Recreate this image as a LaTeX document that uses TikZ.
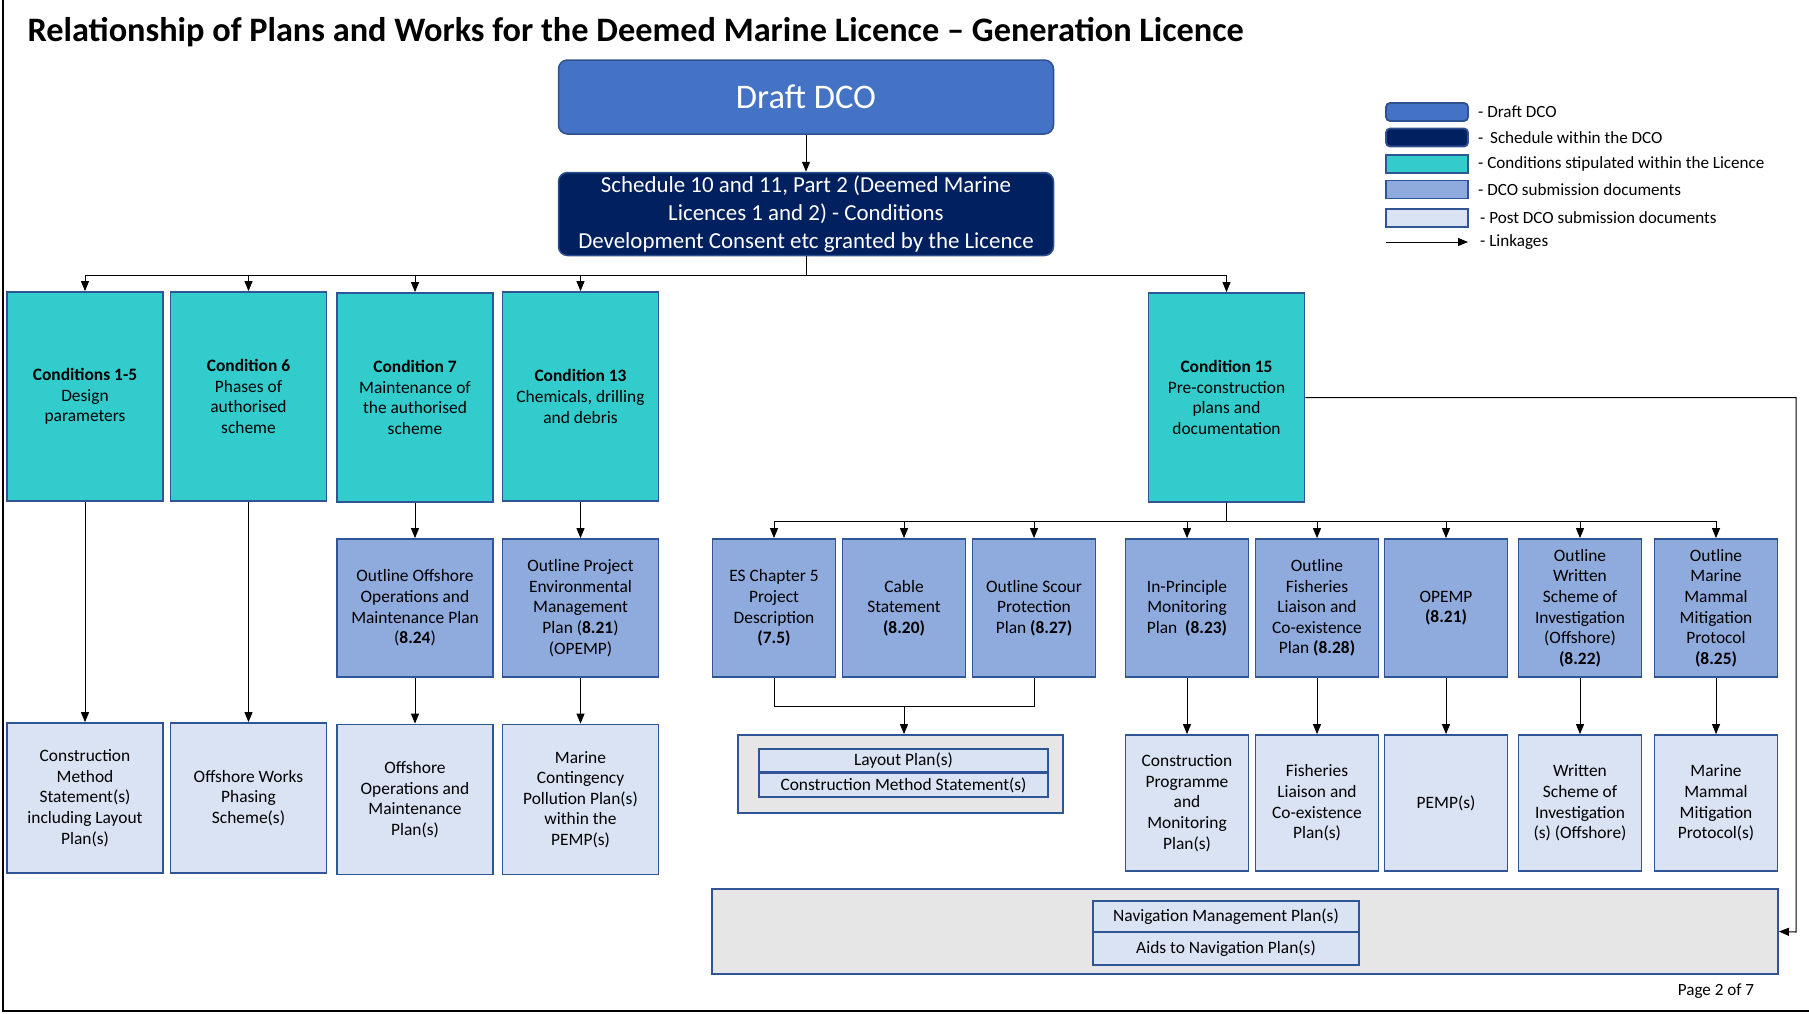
\documentclass[tikz,border=0pt]{standalone}
\usepackage{fontspec}
\setmainfont{Carlito}
\usetikzlibrary{arrows.meta,positioning,calc}
\definecolor{dcoblue}{HTML}{4472C4}
\definecolor{dcoedge}{HTML}{2F528F}
\definecolor{schednavy}{HTML}{002060}
\definecolor{condcyan}{HTML}{33CCCC}
\definecolor{subblue}{HTML}{8FAADC}
\definecolor{postblue}{HTML}{DAE3F3}
\definecolor{traygrey}{HTML}{E7E6E6}
\definecolor{boxedge}{HTML}{2F5597}
\newcommand\boxfont{\fontsize{17.4}{20.6}\selectfont}
\newcommand\legfont{\fontsize{17.1}{19}\selectfont}

\begin{document}
\begin{tikzpicture}[
        x=1pt, y=-1pt,
        docbox/.style={draw=boxedge, line width=1.8pt, align=center, font=\boxfont, inner sep=2pt},
        condbox/.style={docbox, fill=condcyan, minimum width=156pt, minimum height=209pt},
        subdoc/.style={docbox, fill=subblue, minimum width=123pt, minimum height=138pt},
        subwide/.style={subdoc, minimum width=156pt},
        postdoc/.style={docbox, fill=postblue, minimum width=123pt, minimum height=136pt},
        postwide/.style={postdoc, minimum width=156pt, minimum height=150pt},
        trayframe/.style={draw=boxedge, line width=1.8pt, fill=traygrey},
        slotbox/.style={docbox, fill=postblue, inner sep=0pt},
        linkage/.style={-{Triangle[length=10pt,width=8pt]}, line width=1pt},
        swatchbox/.style={draw=boxedge, line width=1.8pt, minimum width=82pt, minimum height=18pt, inner sep=0pt},
        legtext/.style={anchor=west, font=\legfont, inner sep=0pt}
    ]
    \useasboundingbox (0,0) rectangle (1809,1013);
    \draw[line width=2pt] (3,0) -- (3,1011) -- (1809,1011);

    \node[anchor=west, font=\fontsize{34.3}{40}\selectfont\bfseries] (title) at (24,32)
        {Relationship of Plans and Works for the Deemed Marine Licence – Generation Licence};

    % top of the tree
    \node[draw=dcoedge, line width=1.5pt, rounded corners=9pt, fill=dcoblue, text=white,
          minimum width=495pt, minimum height=74pt, font=\fontsize{34.5}{40}\selectfont] (dco) at (806,97) {Draft DCO};
    \node[draw=dcoedge, line width=1.5pt, rounded corners=9pt, fill=schednavy, text=white, align=center,
          minimum width=495pt, minimum height=83pt, font=\fontsize{22.9}{27.7}\selectfont] (sched) at (806,214)
        {Schedule 10 and 11, Part 2 (Deemed Marine\\Licences 1 and 2) - Conditions\\Development Consent etc granted by the Licence};

    % conditions
    \node[condbox] (c1) at (85,396.5) {\textbf{Conditions 1-5}\\Design\\parameters};
    \node[condbox] (c6) at (248.5,396.5) {\textbf{Condition 6}\\Phases of\\authorised\\scheme};
    \node[condbox] (c7) at (415,397.5) {\textbf{Condition 7}\\Maintenance of\\the authorised\\scheme};
    \node[condbox] (c13) at (580.5,396.5) {\textbf{Condition 13}\\Chemicals, drilling\\and debris};
    \node[condbox] (c15) at (1226.5,397.5) {\textbf{Condition 15}\\Pre-construction\\plans and\\documentation};

    % DCO submission documents
    \node[subwide] (oom) at (415,608) {Outline Offshore\\Operations and\\Maintenance Plan\\(\textbf{8.24})};
    \node[subwide] (opemp) at (580.5,608) {Outline Project\\Environmental\\Management\\Plan (\textbf{8.21})\\(OPEMP)};
    \node[subdoc] (es) at (774,608) {ES Chapter 5\\Project\\Description\\\textbf{(7.5)}};
    \node[subdoc] (cable) at (904,608) {Cable\\Statement\\\textbf{(8.20)}};
    \node[subdoc] (scour) at (1034,608) {Outline Scour\\Protection\\Plan \textbf{(8.27)}};
    \node[subdoc] (ipmp) at (1187,608) {In-Principle\\Monitoring\\Plan~ \textbf{(8.23)}};
    \node[subdoc] (ofl) at (1317,608) {Outline\\Fisheries\\Liaison and\\Co-existence\\Plan \textbf{(8.28)}};
    \node[subdoc] (opemps) at (1446,608) {OPEMP\\\textbf{(8.21)}};
    \node[subdoc] (owsi) at (1580,608) {Outline\\Written\\Scheme of\\Investigation\\(Offshore)\\\textbf{(8.22)}};
    \node[subdoc] (ommmp) at (1716,608) {Outline\\Marine\\Mammal\\Mitigation\\Protocol\\\textbf{(8.25)}};

    % post DCO submission documents
    \node[postwide] (cms) at (85,798) {Construction\\Method\\Statement(s)\\including Layout\\Plan(s)};
    \node[postwide] (owps) at (248.5,798) {Offshore Works\\Phasing\\Scheme(s)};
    \node[postwide] (oomp) at (415,799.5) {Offshore\\Operations and\\Maintenance\\Plan(s)};
    \node[postwide] (mcpp) at (580.5,799.5) {Marine\\Contingency\\Pollution Plan(s)\\within the\\PEMP(s)};
    \node[postdoc] (cpmp) at (1187,803) {Construction\\Programme\\and\\Monitoring\\Plan(s)};
    \node[postdoc] (flp) at (1317,803) {Fisheries\\Liaison and\\Co-existence\\Plan(s)};
    \node[postdoc] (pemp) at (1446,803) {PEMP(s)};
    \node[postdoc] (wsi) at (1580,803) {Written\\Scheme of\\Investigation\\(s) (Offshore)};
    \node[postdoc] (mmmp) at (1716,803) {Marine\\Mammal\\Mitigation\\Protocol(s)};

    % grey trays
    \node[trayframe, minimum width=325pt, minimum height=78pt] (layout) at (900.5,774) {};
    \node[slotbox, minimum width=289pt, minimum height=23pt] (lp) at (903.5,760.5) {Layout Plan(s)};
    \node[slotbox, minimum width=289pt, minimum height=24pt] (lcms) at (903.5,785) {Construction Method Statement(s)};
    \node[trayframe, minimum width=1066pt, minimum height=85pt] (nav) at (1245,931.5) {};
    \node[slotbox, minimum width=266pt, minimum height=31pt] (nmp) at (1226,916.5) {Navigation Management Plan(s)};
    \node[slotbox, minimum width=266pt, minimum height=33pt] (anp) at (1226,948.5) {Aids to Navigation Plan(s)};

    % connectors
    \coordinate (bus) at (806,275);
    \coordinate (bus15) at (1226.5,521);
    \coordinate (brk) at (904,706);
    \coordinate (navr) at (1796,932);
    \draw[linkage] (dco) -- (sched);
    \foreach \n in {c1,c6,c7,c13,c15}
        \draw[linkage] (sched.south) -- (bus) -| (\n.north);
    \draw[linkage] (c1) -- (cms);
    \draw[linkage] (c6) -- (owps);
    \draw[linkage] (c7) -- (oom);
    \draw[linkage] (oom) -- (oomp);
    \draw[linkage] (c13) -- (opemp);
    \draw[linkage] (opemp) -- (mcpp);
    \foreach \n in {es,cable,scour,ipmp,ofl,opemps,owsi,ommmp}
        \draw[linkage] (c15.south) -- (bus15) -| (\n.north);
    \draw[line width=1pt] (es.south) |- (brk) -| (scour.south);
    \draw[linkage] (brk) -- (brk |- layout.north);
    \draw[linkage] (ipmp) -- (cpmp);
    \draw[linkage] (ofl) -- (flp);
    \draw[linkage] (opemps) -- (pemp);
    \draw[linkage] (owsi) -- (wsi);
    \draw[linkage] (ommmp) -- (mmmp);
    \draw[linkage] (c15.east) -| (navr) -- (nav.east);

    % legend
    \node[swatchbox, fill=dcoblue, draw=dcoedge, rounded corners=4pt] (lg1) at (1427,112) {};
    \node[swatchbox, fill=schednavy, draw=dcoedge, rounded corners=4pt] (lg2) at (1427,137.5) {};
    \node[swatchbox, fill=condcyan] (lg3) at (1427,164) {};
    \node[swatchbox, fill=subblue] (lg4) at (1427,189.5) {};
    \node[swatchbox, fill=postblue] (lg5) at (1427,218) {};
    \coordinate (lk1) at (1386,242);
    \coordinate (lk2) at (1468,242);
    \draw[linkage] (lk1) -- (lk2);
    \node[legtext] at (1478,112) {- Draft DCO};
    \node[legtext] at (1478,137.5) {-\, Schedule within the DCO};
    \node[legtext] at (1478,164) {- Conditions stipulated within the Licence};
    \node[legtext] at (1478,189.5) {- DCO submission documents};
    \node[legtext] at (1480,218) {- Post DCO submission documents};
    \node[legtext] at (1480,242) {- Linkages};

    \node[font=\legfont] (page) at (1716,991) {Page 2 of 7};
\end{tikzpicture}
\end{document}
